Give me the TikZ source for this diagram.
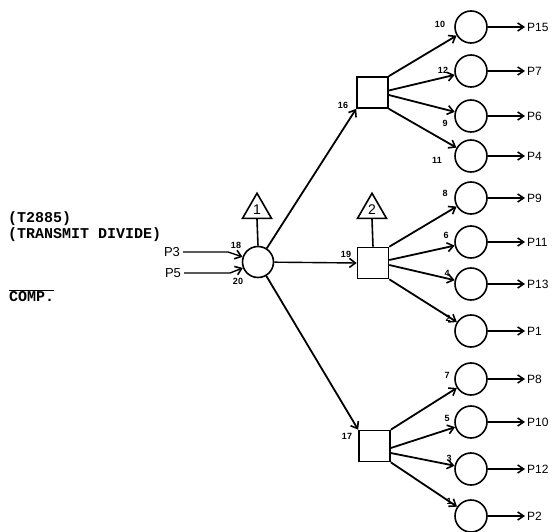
\documentclass[tikz,border=0pt]{standalone}
\usepackage{fontspec}
\setmainfont{Liberation Sans}
\setmonofont{Liberation Mono}
\usetikzlibrary{arrows.meta,shapes.geometric}
\begin{document}
\begin{tikzpicture}[x=1pt,y=-1pt,
  every node/.style={inner sep=0pt},
  place/.style={circle,draw,line width=1.6pt,minimum size=32pt},
  trans/.style={rectangle,draw,line width=1.6pt,minimum size=31pt},
  flag/.style={regular polygon,regular polygon sides=3,draw,line width=1.6pt,minimum size=33.5pt,font=\fontsize{14}{15}\selectfont},
  plabel/.style={anchor=west,font=\fontsize{12}{13}\selectfont},
  inlabel/.style={font=\fontsize{13}{14}\selectfont},
  num/.style={font=\fontsize{9}{10}\selectfont\bfseries},
  tt/.style={font=\fontsize{15}{16}\selectfont\ttfamily\bfseries,anchor=west},
  arc/.style={line width=1.8pt,-{Straight Barb[length=6pt,width=9pt,line width=1.6pt]}},
  outarc/.style={line width=1.4pt,-{Straight Barb[length=6pt,width=8pt,line width=1.5pt]},shorten >=2pt}
]
\useasboundingbox (0,0) rectangle (560,532);

% left texts
\node[tt] (tA) at (8,219) {(T2885)};
\node[tt] (tB) at (8,235) {(TRANSMIT DIVIDE)};
\node[tt] (tC) at (9,296) {$\overline{\mbox{\fontsize{15}{16}\selectfont\ttfamily\bfseries COMP.}}$};

% central place and flags
\node[place,minimum size=31pt] (c0) at (258,262) {};
\node[flag] (t1) at (257,210) {1};
\node[flag] (t2) at (372,210) {2};

% transitions
\node[trans] (b1) at (372.5,92.5) {};
\node[trans] (b2) at (373,263) {};
\node[trans] (b3) at (374.5,446) {};

\draw[line width=1.6pt] (t1.south) -- (c0.north);
\draw[line width=1.6pt] (t2.south) -- (b2.north);

% inputs
\node[inlabel] (p3) at (172,252) {P3};
\node[inlabel] (p5) at (173,273) {P5};
\coordinate (k3) at (228,252);
\coordinate (k5) at (230,273);
\draw[arc,line width=1.4pt] ([xshift=3pt]p3.east) -- (k3) -- (c0);
\draw[arc,line width=1.4pt] ([xshift=3pt]p5.east) -- (k5) -- (c0);
\node[num] (n18) at (236,245) {18};
\node[num] (n20) at (238,281) {20};

% central to transitions
\draw[arc] (c0) -- (b1.south west);
\draw[arc,line width=1.4pt] (c0) -- (b2.west);
\draw[arc] (c0) -- (b3.north west);
\node[num] (n16) at (343,105) {16};
\node[num] (n19) at (346,254) {19};
\node[num] (n17) at (347,436) {17};

% right places
\foreach \n/\y/\lab in {a1/27/P15, a2/71/P7, a3/116/P6, a4/156/P4,
                        m1/198/P9, m2/242/P11, m3/284/P13, m4/331/P1,
                        d1/379/P8, d2/422/P10, d3/469/P12, d4/516/P2}{
  \node[place] (\n) at (471,\y) {};
  \node[plabel] (l\n) at (527,\y) {\lab};
  \draw[outarc] (\n.east) -- (l\n.west);
}

% top group
\draw[arc] (b1.north east) -- (a1);
\draw[arc] ([yshift=2pt]b1.east) -- (a2);
\draw[arc] ([yshift=-2.5pt]b1.east) -- (a3);
\draw[arc] (b1.south east) -- (a4);
\node[num] (n10) at (440,24) {10};
\node[num] (n12) at (443,70) {12};
\node[num] (n9) at (445,123) {9};
\node[num] (n11) at (437,160) {11};

% middle group
\draw[arc] (b2.north east) -- (m1);
\draw[arc] ([yshift=3pt]b2.east) -- (m2);
\draw[arc] ([yshift=-2pt]b2.east) -- (m3);
\draw[arc] (b2.south east) -- (m4);
\node[num] (n8) at (445,193) {8};
\node[num] (n6) at (446,235) {6};
\node[num] (n4) at (447,273) {4};
\node[num] (n2) at (448,318) {2};

% bottom group
\draw[arc] (b3.north east) -- (d1);
\draw[arc] ([yshift=-2pt]b3.east) -- (d2);
\draw[arc] ([yshift=-7pt]b3.east) -- (d3);
\draw[arc] (b3.south east) -- (d4);
\node[num] (n7) at (447,375) {7};
\node[num] (n5) at (447,418) {5};
\node[num] (n3) at (449,458) {3};
\node[num] (n1) at (449,501) {1};
\end{tikzpicture}
\end{document}
